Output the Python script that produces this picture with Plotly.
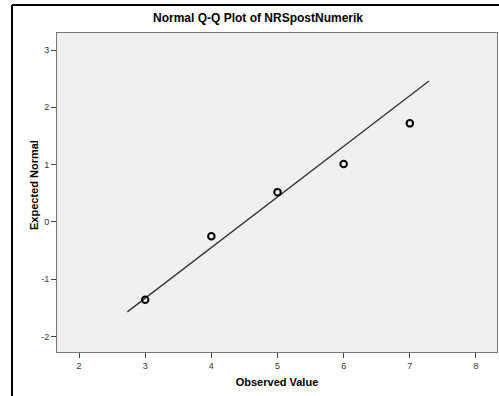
import plotly.graph_objects as go

observed = [3, 4, 5, 6, 7]
expected = [-1.36, -0.25, 0.52, 1.01, 1.72]
line_x = [2.73, 7.29]
line_y = [-1.57, 2.46]
x_ticks = [2, 3, 4, 5, 6, 7, 8]
y_ticks = [-2, -1, 0, 1, 2, 3]
y_tick_labels = ["-2", "-1", "0", "1", "2", "3"]

FONT = "Liberation Sans, Arial, sans-serif"

fig = go.Figure()
fig.add_trace(go.Scatter(x=line_x, y=line_y, mode="lines",
                         line=dict(color="#333333", width=1.3), showlegend=False))
fig.add_trace(go.Scatter(x=observed, y=expected, mode="markers",
                         marker=dict(symbol="circle-open", size=6.5, color="black",
                                     line=dict(width=2, color="black")),
                         showlegend=False))

fx0 = (12 - 57) / 440
fy0 = 1 + (33 - 5) / 319

fig.update_layout(
    width=499, height=396,
    margin=dict(l=57, r=2, t=33, b=44, autoexpand=False),
    paper_bgcolor="white", plot_bgcolor="#f0f0f0",
    font=dict(family=FONT, color="black"),
    title=dict(text="<b>Normal Q-Q Plot of NRSpostNumerik</b>", x=(258) / 499, xref="container",
               xanchor="center", y=1 - 18/396, yanchor="middle",
               font=dict(size=12, family=FONT, color="black")),
    xaxis=dict(range=[1.667, 8.318], tickvals=x_ticks, showgrid=False, zeroline=False,
               automargin=False,
               showline=True, linecolor="#777777", linewidth=1, mirror=True,
               ticks="outside", ticklen=5, tickcolor="#444444",
               tickfont=dict(size=9, color="#333333", family=FONT),
               title=dict(text="<b>Observed Value</b>", font=dict(size=11, family=FONT, color="black"),
                          standoff=8)),
    yaxis=dict(range=[-2.27, 3.297], tickvals=y_ticks, ticktext=y_tick_labels,
               showgrid=False, zeroline=False, automargin=False,
               showline=True, linecolor="#777777", linewidth=1, mirror=True,
               ticks="outside", ticklen=5, tickcolor="#444444",
               tickfont=dict(size=9, color="#333333", family=FONT)),
    annotations=[dict(text="<b>Expected Normal</b>", xref="paper", yref="paper",
                      x=(34 - 57) / 440, y=(352 - 185) / 319, xanchor="center", yanchor="middle",
                      textangle=-90, showarrow=False,
                      font=dict(size=11, family=FONT, color="black"))],
    shapes=[
        dict(type="line", xref="paper", yref="paper", x0=fx0, x1=1.2, y0=fy0, y1=fy0,
             line=dict(color="black", width=2), layer="below"),
        dict(type="line", xref="paper", yref="paper", x0=fx0, x1=fx0, y0=fy0, y1=-0.3,
             line=dict(color="black", width=2), layer="below"),
    ],
)

fig.write_html("out.html", config={"displayModeBar": False},
               post_script="document.body.style.margin='0';document.body.style.overflow='hidden';")
